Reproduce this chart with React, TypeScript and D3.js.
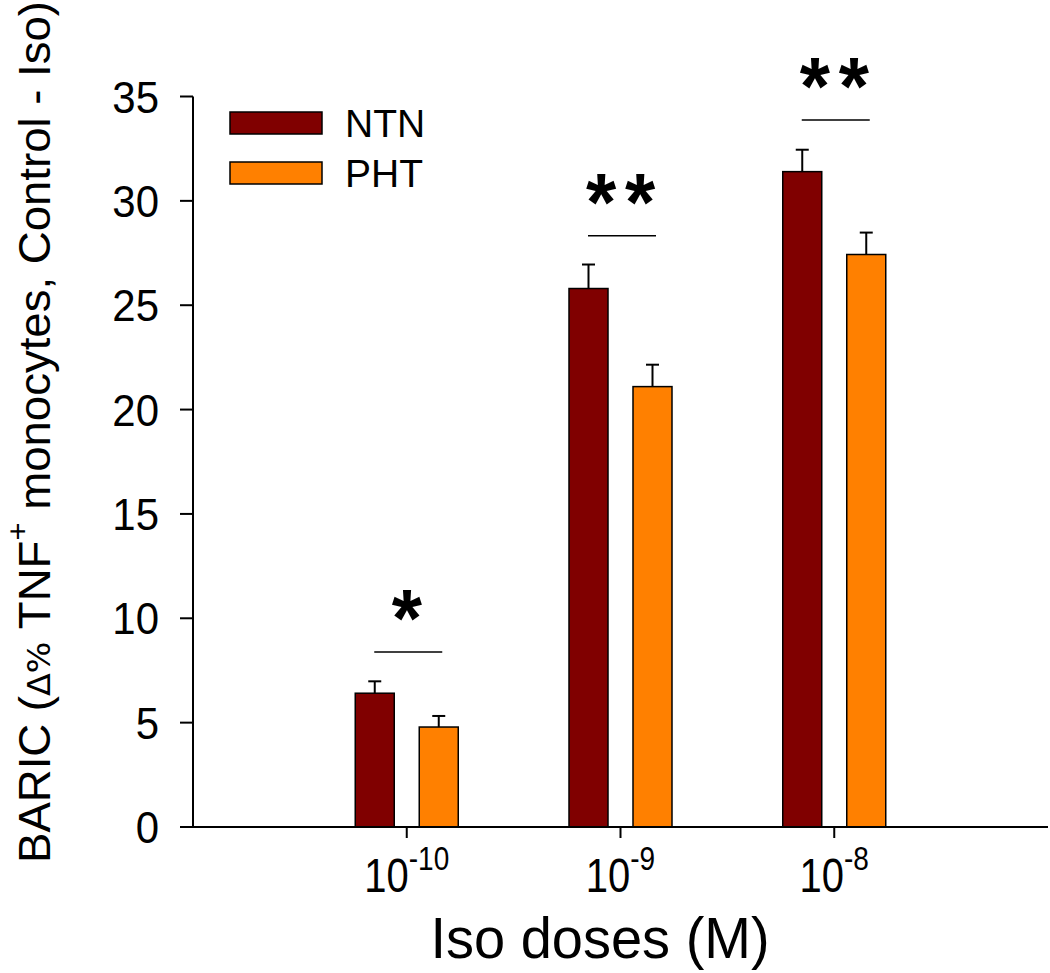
import React from "react";
import * as d3 from "d3";

const categories = ["-10", "-9", "-8"];
const seriesNames = ["NTN", "PHT"];
const seriesColors = ["#800000", "#FF8000"];
const ntnValues = [6.41, 25.8, 31.4];
const ntnErrors = [0.57, 1.15, 1.05];
const phtValues = [4.79, 21.1, 27.43];
const phtErrors = [0.53, 1.05, 1.05];
const yTicks = [0, 5, 10, 15, 20, 25, 30, 35];
const sigLabels = ["*", "**", "**"];
const sigLevels = [8.38, 28.33, 33.88];

const W = 1050;
const H = 973;
const FONT = "'Liberation Sans', Arial, Helvetica, sans-serif";

export default function App() {
  const x = d3.scaleLinear().domain([0, 4]).range([193, 1048]);
  const y = d3.scaleLinear().domain([0, 35]).range([827, 96.5]);
  const barW = 39;
  const off = 32;
  const series = [
    { name: seriesNames[0], color: seriesColors[0], values: ntnValues, errors: ntnErrors, dx: -off },
    { name: seriesNames[1], color: seriesColors[1], values: phtValues, errors: phtErrors, dx: off },
  ];
  const y0 = y(0);

  return (
    <svg width={W} height={H} style={{ position: "absolute", left: 0, top: 0, background: "#fff" }} fontFamily={FONT}>
      {/* bars */}
      {series.map((s, si) =>
        s.values.map((v, i) => {
          const cx = x(i + 1) + s.dx;
          return (
            <g key={`b${si}-${i}`}>
              <line x1={cx} x2={cx} y1={y(v)} y2={y(v + s.errors[i])} stroke="#000" strokeWidth={2} />
              <line x1={cx - 6.5} x2={cx + 6.5} y1={y(v + s.errors[i])} y2={y(v + s.errors[i])} stroke="#000" strokeWidth={2} />
              <rect x={cx - barW / 2} y={y(v)} width={barW} height={y0 - y(v)} fill={s.color} stroke="#000" strokeWidth={1.5} />
            </g>
          );
        })
      )}
      {/* significance */}
      {sigLabels.map((lab, i) => {
        const cx = x(i + 1) + 1.5;
        const ly = y(sigLevels[i]);
        const stars = lab.split("");
        return (
          <g key={`s${i}`}>
            <line x1={cx - 34} x2={cx + 34} y1={ly} y2={ly} stroke="#000" strokeWidth={1.5} />
            {stars.map((st, k) => {
              const sx = cx - 1.5 + (k - (stars.length - 1) / 2) * 39;
              return (
                <text key={k} transform={`translate(${sx},${ly - 6}) scale(1.05,1.1)`} textAnchor="middle" fontSize={74} fontWeight="bold" fill="#000">
                  {st}
                </text>
              );
            })}
          </g>
        );
      })}
      {/* axes */}
      <line x1={193} x2={193} y1={y(35)} y2={y0} stroke="#000" strokeWidth={2} />
      <line x1={193} x2={1048} y1={y0} y2={y0} stroke="#000" strokeWidth={2} />
      {yTicks.map((t) => (
        <g key={`yt${t}`}>
          <line x1={180} x2={193} y1={y(t)} y2={y(t)} stroke="#000" strokeWidth={2} />
          <text transform={`translate(159,${y(t) + 16}) scale(1.05,1.12)`} textAnchor="end" fontSize={40} fill="#000">
            {t}
          </text>
        </g>
      ))}
      {categories.map((c, i) => (
        <g key={`xt${i}`}>
          <line x1={x(i + 1)} x2={x(i + 1)} y1={y0} y2={y0 + 11} stroke="#000" strokeWidth={2} />
          <text transform={`translate(${x(i + 1)},892) scale(1,1.18)`} textAnchor="middle" fill="#000">
            <tspan fontSize={40}>10</tspan>
            <tspan fontSize={28} dy={-19}>{c}</tspan>
          </text>
        </g>
      ))}
      {/* axis titles */}
      <text transform="translate(600,958) scale(1,1.02)" textAnchor="middle" fontSize={56} fill="#000">
        Iso doses (M)
      </text>
      <text
        transform={`translate(50, 432) rotate(-90)`}
        textAnchor="middle"
        fontSize={44}
        fill="#000"
        textLength={862}
        lengthAdjust="spacingAndGlyphs"
      >
        <tspan>BARIC (</tspan>
        <tspan fontFamily="'DejaVu Sans', sans-serif" fontSize={32}>Δ%</tspan>
        <tspan> TNF</tspan>
        <tspan fontSize={30} dy={-22}>+</tspan>
        <tspan dy={22}> monocytes, Control - Iso)</tspan>
      </text>
      {/* legend */}
      {series.map((s, i) => (
        <g key={`lg${i}`}>
          <rect x={230} y={112 + i * 50} width={92} height={22} fill={s.color} stroke="#000" strokeWidth={1.5} />
          <text x={345} y={137 + i * 50} fontSize={39} fill="#000">
            {s.name}
          </text>
        </g>
      ))}
    </svg>
  );
}
